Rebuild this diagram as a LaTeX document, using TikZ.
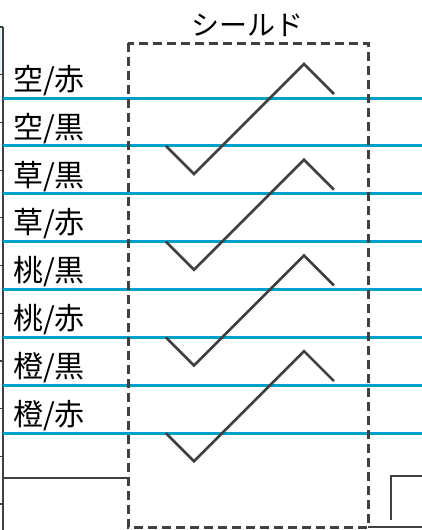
\documentclass[tikz,border=0pt]{standalone}
\usepackage{fontspec}
\newfontfamily\jpfont{Noto Sans CJK JP}

\definecolor{wire-blue}{RGB}{0, 160, 200}
\definecolor{dark-gray}{RGB}{64, 64, 64}
\definecolor{pale-cyan}{RGB}{225, 243, 247}

\begin{document}
\begin{tikzpicture}[
        x=1pt, y=-1pt,
        wire/.style={wire-blue, line width=3pt},
        twist/.style={dark-gray, line width=2.6pt},
        frame/.style={dark-gray, line width=2.6pt},
        tick/.style={dark-gray, line width=1.2pt},
        shieldbox/.style={dark-gray, line width=3pt, dash pattern=on 9pt off 5pt},
        pairlabel/.style={anchor=west, inner sep=0pt, font=\jpfont\fontsize{30}{32}\selectfont},
    ]
        \useasboundingbox (0,0) rectangle (422,530);
        \fill[pale-cyan] (0,27) rectangle (3,75);
        \draw[tick] (3,27) -- (3,530);
        \foreach \k in {0,...,10}
            \draw[tick] (0,27+47.7*\k) -- (3,27+47.7*\k);

        \foreach \a/\b [count=\i from 0] in {空/赤, 空/黒, 草/黒, 草/赤, 桃/黒, 桃/赤, 橙/黒, 橙/赤} {
            \draw[wire] (3,98+47.86*\i) -- (422,98+47.86*\i);
            \node[pairlabel] (pair-\i) at (13,80.5+47.86*\i) {\a/\b};
        }

        \foreach \k in {0,...,3}
            \draw[twist, line join=miter] (166,146+95.72*\k) -- (194,174+95.72*\k)
                -- (304,64+95.72*\k) -- (334,94+95.72*\k);

        \coordinate (shield-nw) at (128,43);
        \coordinate (shield-se) at (368,527);
        \draw[frame] (3,478) -- (128,478) -- (128,484);
        \draw[frame] (391,520) -- (391,476) -- (422,476);
        \draw[frame] (368,527) -- (422,527);
        \draw[shieldbox] (shield-nw) rectangle (shield-se);
        \node[inner sep=0pt, font=\jpfont\fontsize{28}{30}\selectfont] (shield-title) at (247,25) {シールド};
    \end{tikzpicture}
\end{document}
